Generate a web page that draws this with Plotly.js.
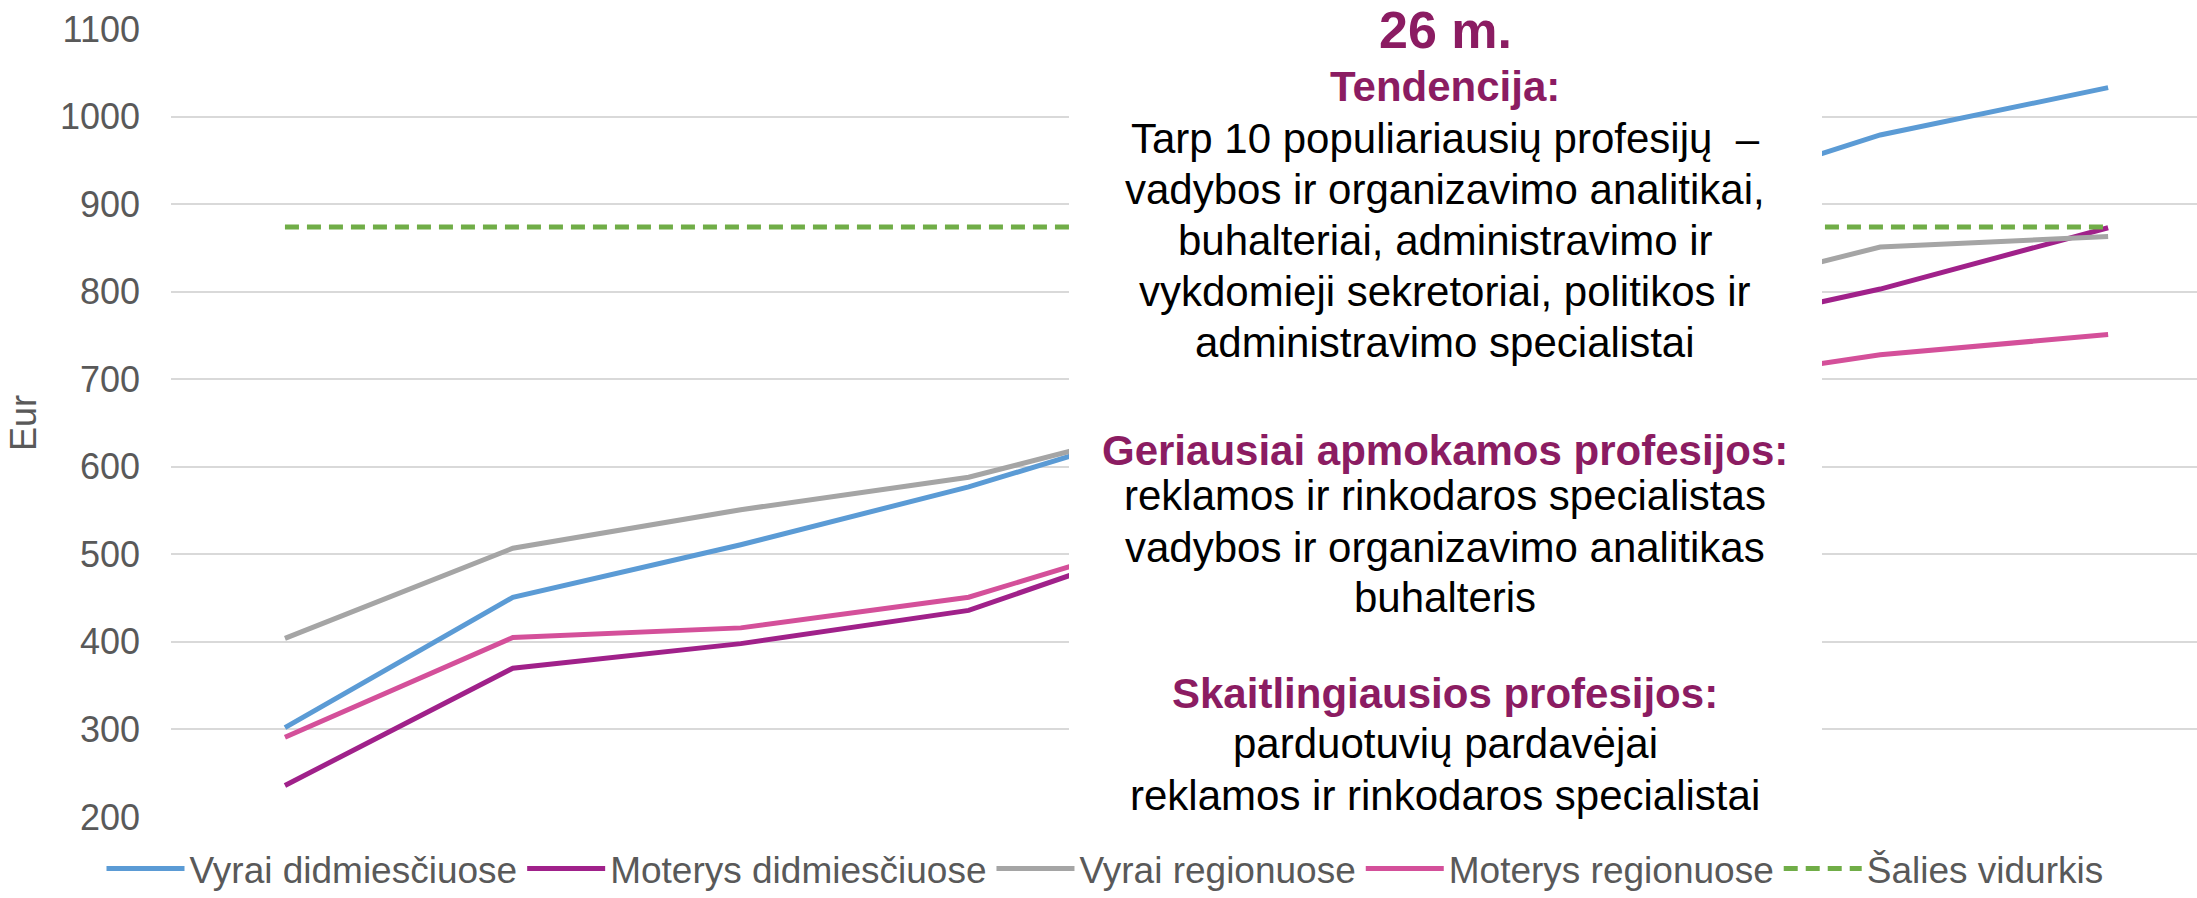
<!DOCTYPE html>
<html>
<head>
<meta charset="utf-8">
<script src="https://cdn.plot.ly/plotly-3.0.1.min.js"></script>
<style>
  html, body { margin: 0; padding: 0; background: #fff; }
  #chart { width: 2197px; height: 898px; }
</style>
</head>
<body>
<div id="chart"></div>
<script>
// amžius (x kategorijos, ašies žymės nerodomos)
var amzius = ['18', '19', '20', '21', '22', '23', '24', '25', '26'];

// vidutinis atlyginimas, Eur
var vyraiDidmiesciuose   = [302, 451, 511, 577, 656, 770, 896, 979, 1033];
var moterysDidmiesciuose = [236, 370, 398, 436, 526, 640, 746, 803, 873];
var vyraiRegionuose      = [404, 507, 551, 588, 655, 720, 786, 851, 863];
var moterysRegionuose    = [291, 405, 416, 451, 530, 610, 689, 728, 751];
var saliesVidurkis       = [874, 874, 874, 874, 874, 874, 874, 874, 874];

var serijos = ['Vyrai didmiesčiuose', 'Moterys didmiesčiuose', 'Vyrai regionuose', 'Moterys regionuose', 'Šalies vidurkis'];

// tekstas baltame langelyje: [tekstas, eilutės vidurys px, stilius]
var tekstas = [
  ['26 m.', 30, 'title'],
  ['Tendencija:', 86, 'head'],
  ['Tarp 10 populiariausių profesijų  –', 138, 'body'],
  ['vadybos ir organizavimo analitikai,', 189, 'body'],
  ['buhalteriai, administravimo ir', 240, 'body'],
  ['vykdomieji sekretoriai, politikos ir', 291, 'body'],
  ['administravimo specialistai', 342, 'body'],
  ['Geriausiai apmokamos profesijos:', 450, 'head'],
  ['reklamos ir rinkodaros specialistas', 495, 'body'],
  ['vadybos ir organizavimo analitikas', 547, 'body'],
  ['buhalteris', 597, 'body'],
  ['Skaitlingiausios profesijos:', 693, 'head'],
  ['parduotuvių pardavėjai', 743, 'body'],
  ['reklamos ir rinkodaros specialistai', 795, 'body']
];

var FONT = 'Liberation Sans, Arial, sans-serif';
var MAGENTA = '#8B1C62';

function line(y, name, color, dash) {
  return {
    x: amzius,
    y: y,
    name: name,
    type: 'scatter',
    mode: 'lines',
    line: { color: color, width: 5, dash: dash || 'solid' },
    hoverinfo: 'skip'
  };
}

var data = [
  line(vyraiDidmiesciuose, serijos[0], '#5B9BD5'),
  line(moterysDidmiesciuose, serijos[1], '#A0218A'),
  line(vyraiRegionuose, serijos[2], '#A5A5A5'),
  line(moterysRegionuose, serijos[3], '#D4509A'),
  line(saliesVidurkis, serijos[4], '#70AD47', '14px,8px')
];

// plot area: top 29px, bottom 817px
var plotTop = 29, plotBottom = 817, plotLeft = 171, plotRight = 2197;
function py(px) { return (plotBottom - px) / (plotBottom - plotTop); }
function pxX(px) { return (px - plotLeft) / (plotRight - plotLeft); }

var styles = {
  title: { size: 52, color: MAGENTA, weight: 'bold' },
  head:  { size: 42, color: MAGENTA, weight: 'bold' },
  body:  { size: 42, color: '#000000', weight: 'normal' }
};

var annotations = tekstas.map(function (t) {
  var s = styles[t[2]];
  return {
    xref: 'paper', yref: 'paper',
    x: pxX(1445), y: py(t[1]),
    xanchor: 'center', yanchor: 'middle',
    text: t[0],
    showarrow: false,
    font: { family: FONT, size: s.size, color: s.color, weight: s.weight }
  };
});

var layout = {
  width: 2197,
  height: 898,
  margin: { l: 171, r: 0, t: 29, b: 81, autoexpand: false },
  paper_bgcolor: '#ffffff',
  plot_bgcolor: '#ffffff',
  font: { family: FONT, color: '#595959' },
  showlegend: true,
  xaxis: {
    type: 'category',
    range: [-0.5, 8.39],
    showticklabels: false,
    showgrid: false,
    zeroline: false,
    showline: false,
    ticks: ''
  },
  yaxis: {
    range: [200, 1100],
    dtick: 100,
    showgrid: true,
    gridcolor: '#D9D9D9',
    gridwidth: 2,
    zeroline: false,
    showline: false,
    ticks: '',
    ticklabelstandoff: 30,
    tickfont: { family: FONT, size: 36, color: '#595959' },
    title: {
      text: 'Eur',
      standoff: 12,
      font: { family: FONT, size: 36, color: '#595959' }
    }
  },
  legend: {
    orientation: 'h',
    x: pxX(1105),
    xanchor: 'center',
    y: py(869),
    yanchor: 'middle',
    itemwidth: 78,
    font: { family: FONT, size: 37, color: '#595959' },
    bgcolor: 'rgba(0,0,0,0)'
  },
  shapes: [{
    type: 'rect',
    xref: 'paper', yref: 'paper',
    x0: pxX(1069), x1: pxX(1822),
    y0: py(845), y1: py(0),
    fillcolor: '#ffffff',
    line: { width: 0 },
    layer: 'above'
  }],
  annotations: annotations
};

Plotly.newPlot('chart', data, layout, { staticPlot: true });
</script>
</body>
</html>
